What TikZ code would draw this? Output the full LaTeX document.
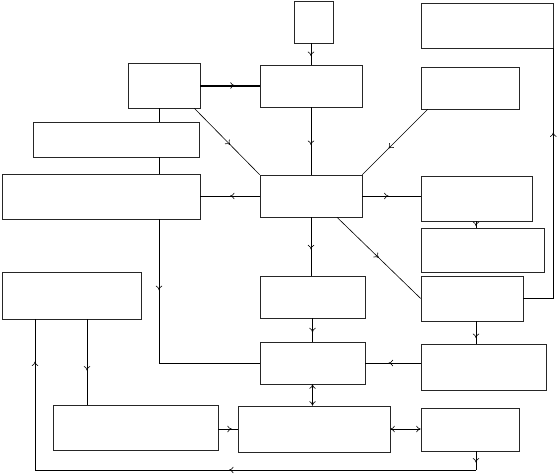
\documentclass[tikz,border=0pt]{standalone}
\usetikzlibrary{arrows.meta,decorations.markings,calc}
\begin{document}
\begin{tikzpicture}[x=1pt,y=-1pt,
  box/.style={draw=black!85,line width=0.6pt,inner sep=0pt,fill=white},
  conn/.style={line width=0.6pt},
  midarr/.style={postaction={decorate},decoration={markings,mark=at position #1 with {\arrow{To[length=4.5pt,width=6.5pt]}}}},
  both/.style={{To[length=4.5pt,width=6.5pt]}-{To[length=4.5pt,width=6.5pt]}}]
\useasboundingbox (0,0) rectangle (557,474);
\node[box,minimum width=72pt,minimum height=45pt] (A) at (164,85.5) {};
\node[box,minimum width=166pt,minimum height=35pt] (B) at (116,139.5) {};
\node[box,minimum width=198pt,minimum height=45pt] (C) at (101,196.5) {};
\node[box,minimum width=102pt,minimum height=42pt] (D) at (311,86) {};
\node[box,minimum width=39pt,minimum height=42pt] (E) at (313.5,22) {};
\node[box,minimum width=132pt,minimum height=45pt] (F) at (487,25.5) {};
\node[box,minimum width=98pt,minimum height=42pt] (G) at (470,88) {};
\node[box,minimum width=102pt,minimum height=42pt] (H) at (311,196) {};
\node[box,minimum width=111pt,minimum height=45pt] (I) at (476.5,198.5) {};
\node[box,minimum width=123pt,minimum height=44pt] (J) at (482.5,250) {};
\node[box,minimum width=102pt,minimum height=45pt] (K) at (472,298.5) {};
\node[box,minimum width=125pt,minimum height=46pt] (L) at (483.5,367) {};
\node[box,minimum width=105pt,minimum height=42pt] (M) at (312.5,297) {};
\node[box,minimum width=105pt,minimum height=42pt] (N) at (312.5,363) {};
\node[box,minimum width=152pt,minimum height=46pt] (O) at (314,429) {};
\node[box,minimum width=98pt,minimum height=43pt] (P) at (470,429.5) {};
\node[box,minimum width=139pt,minimum height=47pt] (Q) at (71.5,295.5) {};
\node[box,minimum width=165pt,minimum height=45pt] (R) at (135.5,427.5) {};
\coordinate (ax) at (159,0);
\coordinate (qx) at (87,0);
\coordinate (kx) at (476,0);
\coordinate (lx) at (35,0);
\coordinate (by) at (0,470);
% connectors
\draw[line width=2pt] (A.east) -- (A.east -| D.west);
\draw[conn,midarr=0.58] (A.east) -- (A.east -| D.west);
\draw[conn,midarr=0.6] (E.south -| D.north) -- (D.north);
\draw[conn,midarr=0.55] ($(A.south east)+(-6,0)$) -- (H.north west);
\draw[conn,midarr=0.56] (D.south) -- (H.north);
\draw[conn,midarr=0.6] ($(G.south west)+(7,0)$) -- (H.north east);
\draw[conn] (A.south -| ax) -- (B.north -| ax);
\draw[conn] (B.south -| ax) -- (C.north -| ax);
\draw[conn,midarr=0.29] (C.south -| ax) -- (N.west -| ax) -- (N.west);
\draw[conn,midarr=0.5] (H.west) -- (H.west -| C.east);
\draw[conn,midarr=0.45] (H.east) -- (H.east -| I.west);
\draw[conn,midarr=0.75] (I.south -| kx) -- (J.north -| kx);
\draw[conn,midarr=0.5] ($(H.south)+(26,0)$) -- (K.west);
\draw[conn,midarr=0.7] (K.east) -- (K.east -| F.south east) -- (F.south east);
\draw[conn,midarr=0.55] (H.south) -- (H.south |- M.north);
\draw[conn,midarr=0.6] (M.south) -- (N.north);
\draw[conn,midarr=0.75] (K.south -| kx) -- (L.north -| kx);
\draw[conn,midarr=0.58] (N.east -| L.west) -- (N.east);
\draw[conn,both] (N.south) -- (N.south |- O.north);
\draw[conn,both] (O.east) -- (O.east -| P.west);
\draw[conn,midarr=0.7] (O.west -| R.east) -- (O.west);
\draw[conn,midarr=0.6] (Q.south -| qx) -- (R.north -| qx);
\draw[conn,midarr=0.6] (P.south -| kx) -- (kx |- by);
\draw[conn,midarr=0.56] (kx |- by) -- (lx |- by);
\draw[conn,midarr=0.72] (lx |- by) -- (Q.south -| lx);
\end{tikzpicture}
\end{document}
